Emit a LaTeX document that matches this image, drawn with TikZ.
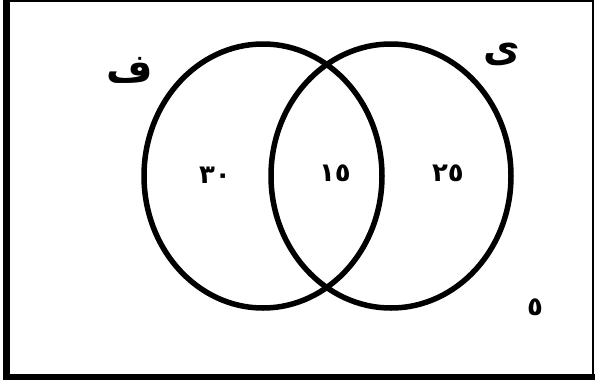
\documentclass[tikz,border=0pt]{standalone}
\usepackage{fontspec}
\newfontfamily\arabicfont[Script=Arabic]{DejaVu Sans}
\TeXXeTstate=1
\begin{document}
\begin{tikzpicture}[x=1pt,y=-1pt,
  setline/.style={line width=5.5pt,black},
  letterlbl/.style={font=\arabicfont\bfseries\fontsize{40}{46}\selectfont,inner sep=0pt},
  numlbl/.style={font=\arabicfont\bfseries\fontsize{26}{30}\selectfont,inner sep=0pt}]
\useasboundingbox (0,0) rectangle (595,383);
% frame
\draw[line width=1.5pt] (9,1) -- (593,1) -- (593,374);
\fill[black] (3,0) rectangle (9.5,380);
\fill[black] (3,374) rectangle (595,380);
% sets
\draw[setline] (263,176) ellipse [x radius=119, y radius=132];
\draw[setline] (391,176) ellipse [x radius=120, y radius=132];
% labels
\node[letterlbl] (F) at (130,70) {\beginR ف\endR};
\node[letterlbl] (Y) at (502,54) {\beginR ى\endR};
\node[numlbl] (n30) at (215,175) {٣٠};
\node[numlbl] (n15) at (335,173) {١٥};
\node[numlbl] (n25) at (448,173) {٢٥};
\node[numlbl] (n5) at (535,307) {٥};
\end{tikzpicture}
\end{document}
